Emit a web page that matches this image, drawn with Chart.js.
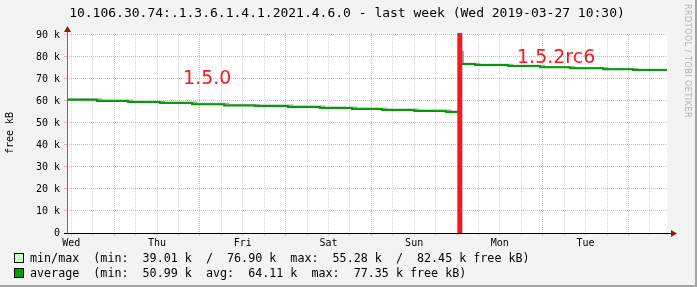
<!DOCTYPE html>
<html>
<head>
<meta charset="utf-8">
<script src="https://cdn.jsdelivr.net/npm/chart.js@4/dist/chart.umd.min.js"></script>
<style>
  html, body { margin: 0; padding: 0; background: #f3f3f3; }
  #wrap { position: relative; width: 697px; height: 287px; background: #f3f3f3;
          box-sizing: border-box; border-right: 2px solid #a4a4a4; border-bottom: 2px solid #a4a4a4; overflow: hidden; }
  canvas { position: absolute; left: 0; top: 0; }
  #title { position: absolute; left: 0; top: 5px; width: 694px; text-align: center;
           font: 13px "DejaVu Sans Mono", monospace; color: #000; white-space: pre; }
  #mark { position: absolute; left: 683px; top: 4px; writing-mode: vertical-rl;
          font: 8px "DejaVu Sans", sans-serif; color: #b0b0b0; letter-spacing: 0.5px; }
  .leg { position: absolute; left: 14px; font: 11.7px "DejaVu Sans Mono", monospace; color: #000; white-space: pre; }
  .leg i { display: inline-block; width: 8px; height: 8px; border: 1px solid #000; margin-right: 6px; vertical-align: -1px; }
</style>
</head>
<body>
<div id="wrap">
  <canvas id="c" width="697" height="287"></canvas>
  <div id="title">10.106.30.74:.1.3.6.1.4.1.2021.4.6.0 - last week (Wed 2019-03-27 10:30)</div>
  <div id="mark">RRDTOOL / TOBI OETIKER</div>
  <div class="leg" style="top:251px"><i style="background:#c8ffc8"></i>min/max  (min:  39.01 k  /  76.90 k  max:  55.28 k  /  82.45 k free kB)</div>
  <div class="leg" style="top:266px"><i style="background:#00a000"></i>average  (min:  50.99 k  avg:  64.11 k  max:  77.35 k free kB)</div>
</div>
<script>
// hours since start of the week window, values in k (thousands of kB)
// each value holds from its hour until the next hour
const avgHours = [0, 8.4, 17.1, 26.0, 35.0, 44.0, 52.6, 61.9, 70.8, 79.8, 88.2, 97.2, 106.1, 110.0, 114.2, 123.5, 132.4, 140.8, 150.1, 158.5, 168];
const avgKB = [60.6, 60.0, 59.5, 59.1, 58.5, 58.0, 57.7, 57.3, 56.8, 56.4, 55.9, 55.5, 55.0, 76.8, 76.4, 75.9, 75.3, 74.9, 74.4, 74.1, 74.1];

const maxHours = [0, 9.6, 18.3, 27.2, 36.2, 45.2, 53.8, 63.1, 72.0, 81.0, 89.4, 98.4, 107.3, 110.0, 110.9, 115.4, 124.7, 133.6, 142.0, 151.3, 159.7, 168];
const maxKB = [60.8, 60.2, 59.7, 59.3, 58.7, 58.2, 57.9, 57.5, 57.0, 56.6, 56.1, 55.7, 55.2, 82.4, 76.9, 76.5, 76.0, 75.4, 75.0, 74.5, 74.2, 74.2];

const upgradeHour = 110.0;
const dayNames = ['Wed', 'Thu', 'Fri', 'Sat', 'Sun', 'Mon', 'Tue'];
const firstNoonHour = 1.2;   // noon Wed, first 6h grid line
const yMaxKB = 90.9;

const noteTexts = ['1.5.0', '1.5.2rc6'];
const noteHours = [32.5, 126.0];
const noteKB = [67.7, 77.3];

const pts = (xs, ys) => xs.map((x, i) => ({ x: x, y: ys[i] }));

const MONO = '"DejaVu Sans Mono", monospace';
const MAJOR = '#eeb0b0';
const MINOR = '#d6d6d6';

const frame = {
  id: 'frame',
  beforeDraw(chart) {
    const { ctx, chartArea: a } = chart;
    ctx.save();
    ctx.fillStyle = '#fff';
    ctx.fillRect(a.left, a.top, a.right - a.left, a.bottom - a.top);
    ctx.restore();
  },
  beforeDatasetsDraw(chart) {
    const { ctx, chartArea: a } = chart;
    ctx.save();
    // y axis
    ctx.strokeStyle = '#707070';
    ctx.lineWidth = 1;
    ctx.beginPath();
    ctx.moveTo(a.left + 0.5, a.top - 4);
    ctx.lineTo(a.left + 0.5, a.bottom);
    ctx.stroke();
    // x axis
    ctx.strokeStyle = '#000';
    ctx.beginPath();
    ctx.moveTo(a.left - 3, a.bottom + 0.5);
    ctx.lineTo(a.right + 6, a.bottom + 0.5);
    ctx.stroke();
    // arrows
    ctx.fillStyle = '#8b1a1a';
    ctx.beginPath();
    ctx.moveTo(a.left + 0.5, a.top - 7);
    ctx.lineTo(a.left - 3, a.top - 1);
    ctx.lineTo(a.left + 4, a.top - 1);
    ctx.closePath();
    ctx.fill();
    ctx.beginPath();
    ctx.moveTo(a.right + 10, a.bottom + 0.5);
    ctx.lineTo(a.right + 4, a.bottom - 3);
    ctx.lineTo(a.right + 4, a.bottom + 4);
    ctx.closePath();
    ctx.fill();
    ctx.restore();
  },
  afterDatasetsDraw(chart) {
    const { ctx, scales } = chart;
    ctx.save();
    ctx.fillStyle = '#f01c24';
    ctx.font = '19px "DejaVu Sans", sans-serif';
    ctx.textBaseline = 'alphabetic';
    noteTexts.forEach((t, i) => {
      ctx.fillText(t, scales.x.getPixelForValue(noteHours[i]), scales.y.getPixelForValue(noteKB[i]));
    });
    ctx.restore();
  }
};

new Chart(document.getElementById('c'), {
  type: 'line',
  data: {
    datasets: [
      {
        label: 'min/max',
        data: pts(maxHours, maxKB),
        stepped: 'before',
        borderColor: '#a8a8a8',
        borderWidth: 2,
        pointRadius: 0,
        order: 3
      },
      {
        label: 'average',
        data: pts(avgHours, avgKB),
        stepped: 'before',
        borderColor: '#009e00',
        borderWidth: 2,
        pointRadius: 0,
        order: 2
      },
      {
        label: 'upgrade',
        data: [{ x: upgradeHour, y: 0 }, { x: upgradeHour, y: yMaxKB }],
        borderColor: '#ee1c24',
        borderWidth: 5,
        borderCapStyle: 'butt',
        pointRadius: 0,
        clip: 4,
        order: 1
      }
    ]
  },
  plugins: [frame],
  options: {
    responsive: false,
    animation: false,
    devicePixelRatio: 1,
    layout: { padding: { top: 33, right: 30, left: 0, bottom: 0 } },
    plugins: { legend: { display: false }, title: { display: false }, tooltip: { enabled: false } },
    scales: {
      x: {
        type: 'linear',
        min: 0,
        max: 168,
        afterBuildTicks(s) {
          const t = [];
          for (let i = 0; i < 28; i++) t.push({ value: firstNoonHour + i * 6 });
          s.ticks = t;
        },
        afterFit(s) { s.height = 54; },
        border: { display: false, dash: [1, 1] },
        grid: {
          color: c => (c.index % 4 === 2 ? MAJOR : MINOR),
          tickColor: c => (c.index % 4 === 2 ? MAJOR : MINOR),
          lineWidth: 1,
          tickLength: 3,
          drawTicks: true
        },
        ticks: {
          autoSkip: false,
          maxRotation: 0,
          padding: 1,
          color: '#000',
          font: { family: MONO, size: 10 },
          callback: (v, i) => (i % 4 === 0 ? dayNames[i / 4] : '')
        }
      },
      y: {
        type: 'linear',
        min: 0,
        max: yMaxKB,
        afterBuildTicks(s) {
          const t = [];
          for (let v = 0; v <= 90; v += 5) t.push({ value: v });
          s.ticks = t;
        },
        afterFit(s) { s.width = 67; },
        border: { display: false, dash: [1, 1] },
        title: {
          display: true,
          text: 'free kB',
          color: '#000',
          font: { family: MONO, size: 10 },
          padding: { top: 4, bottom: 0 }
        },
        grid: {
          color: c => (Math.round(c.tick.value) % 10 === 0 ? MAJOR : MINOR),
          tickColor: c => (Math.round(c.tick.value) % 10 === 0 ? MAJOR : MINOR),
          lineWidth: 1,
          tickLength: 3,
          drawTicks: true
        },
        ticks: {
          padding: 4,
          color: '#000',
          font: { family: MONO, size: 10 },
          callback: v => (Math.round(v) % 10 === 0 ? (v === 0 ? '0' : v + ' k') : '')
        }
      }
    }
  }
});
</script>
</body>
</html>
